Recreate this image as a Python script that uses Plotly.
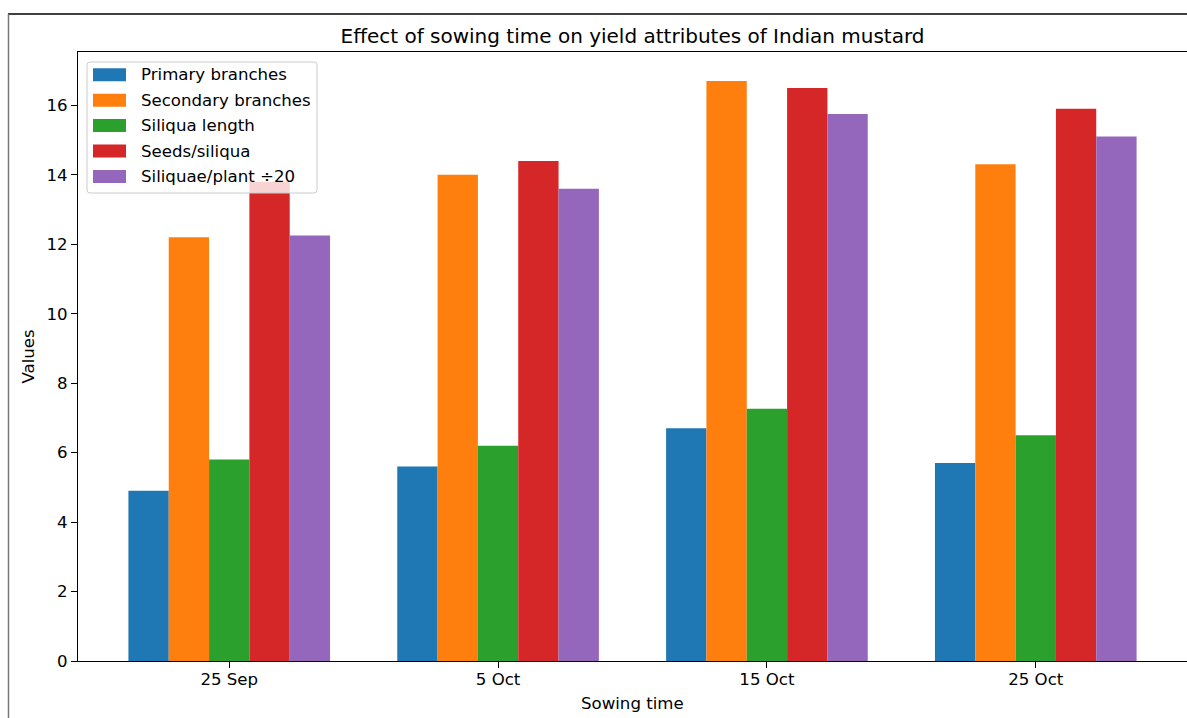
import plotly.graph_objects as go

categories = ["25 Sep", "5 Oct", "15 Oct", "25 Oct"]
series_names = ["Primary branches", "Secondary branches", "Siliqua length",
                "Seeds/siliqua", "Siliquae/plant ÷20"]
primary_branches = [4.9, 5.6, 6.7, 5.7]
secondary_branches = [12.2, 14.0, 16.7, 14.3]
siliqua_length = [5.8, 6.2, 7.26, 6.5]
seeds_per_siliqua = [13.8, 14.4, 16.5, 15.9]
siliquae_per_plant_div20 = [12.25, 13.6, 15.75, 15.1]
y_ticks = [0, 2, 4, 6, 8, 10, 12, 14, 16]

series_values = [primary_branches, secondary_branches, siliqua_length,
                 seeds_per_siliqua, siliquae_per_plant_div20]
colors = ["#1f77b4", "#ff7f0e", "#2ca02c", "#d62728", "#9467bd"]

W, H = 1187, 718
L, T, R, B = 78, 52, 0, 718 - 661
PW, PH = W - L - R, H - T - B

def px(x):  # window pixels -> paper
    return (x - L) / PW

def py(y):
    return (H - B - y) / PH

FONT = "DejaVu Sans"
FS = 16.6

fig = go.Figure()
xpos = list(range(len(categories)))
for name, vals, c in zip(series_names, series_values, colors):
    fig.add_trace(go.Bar(x=xpos, y=vals, name=name, marker=dict(color=c, line=dict(width=0)),
                         showlegend=False))

fig.update_layout(
    width=W, height=H,
    margin=dict(l=L, r=R, t=T, b=B),
    paper_bgcolor="white", plot_bgcolor="white",
    barmode="group", bargap=0.25, bargroupgap=0,
    font=dict(family=FONT, size=FS, color="black"),
    hovermode=False,
    title=dict(text="Effect of sowing time on yield attributes of Indian mustard",
               x=px(632.5), xref="paper", xanchor="center",
               y=1 - 36 / H, yref="container", yanchor="middle",
               font=dict(family=FONT, size=20, color="black")),
)
fig.update_xaxes(range=[-0.5625, 3.5625], tickmode="array", tickvals=xpos, ticktext=categories,
                 showgrid=False, zeroline=False, showline=True, linecolor="black", linewidth=1.2,
                 mirror=True, ticks="outside", ticklen=6, tickwidth=1.2, tickcolor="black",
                 ticklabelstandoff=-3)
fig.update_yaxes(range=[0, 17.535], tickmode="array", tickvals=y_ticks,
                 showgrid=False, zeroline=False, showline=True, linecolor="black", linewidth=1.2,
                 mirror=True, ticks="outside", ticklen=6, tickwidth=1.2, tickcolor="black")

annotations = [
    dict(text="Values", x=px(28), y=0.5, xref="paper", yref="paper", textangle=-90,
         showarrow=False, xanchor="center", yanchor="middle", font=dict(size=FS)),
    dict(text="Sowing time", x=0.5, y=py(703), xref="paper", yref="paper",
         showarrow=False, xanchor="center", yanchor="middle", font=dict(size=FS)),
]

shapes = []
# outer figure frame
shapes.append(dict(type="line", xref="paper", yref="paper", x0=px(8), x1=px(1200), y0=py(14), y1=py(14),
                   line=dict(color="black", width=1.5)))
shapes.append(dict(type="line", xref="paper", yref="paper", x0=px(8.5), x1=px(8.5), y0=py(14), y1=py(730),
                   line=dict(color="#777777", width=1.5)))

# legend box with rounded corners
bx0, bx1, by0, by1 = 87, 317, 62, 193
r = 3
path = (f"M {px(bx0 + r)} {py(by0)} L {px(bx1 - r)} {py(by0)} Q {px(bx1)} {py(by0)} {px(bx1)} {py(by0 + r)} "
        f"L {px(bx1)} {py(by1 - r)} Q {px(bx1)} {py(by1)} {px(bx1 - r)} {py(by1)} "
        f"L {px(bx0 + r)} {py(by1)} Q {px(bx0)} {py(by1)} {px(bx0)} {py(by1 - r)} "
        f"L {px(bx0)} {py(by0 + r)} Q {px(bx0)} {py(by0)} {px(bx0 + r)} {py(by0)} Z")
shapes.append(dict(type="path", xref="paper", yref="paper", path=path, layer="above",
                   fillcolor="rgba(255,255,255,0.8)", line=dict(color="#cccccc", width=1)))
row0, dy = 74.8, 25.4
for i, (name, c) in enumerate(zip(series_names, colors)):
    cy = row0 + i * dy
    shapes.append(dict(type="rect", xref="paper", yref="paper", layer="above",
                       x0=px(93), x1=px(126), y0=py(cy - 6.5), y1=py(cy + 6.5),
                       fillcolor=c, line=dict(width=0)))
    annotations.append(dict(text=name, x=px(139), y=py(cy), xref="paper", yref="paper",
                            showarrow=False, xanchor="left", yanchor="middle",
                            font=dict(size=FS)))

fig.update_layout(shapes=shapes, annotations=annotations)
fig.write_html("out.html", config={"displayModeBar": False},
               post_script="document.body.style.margin='0';document.body.style.overflow='hidden';")
